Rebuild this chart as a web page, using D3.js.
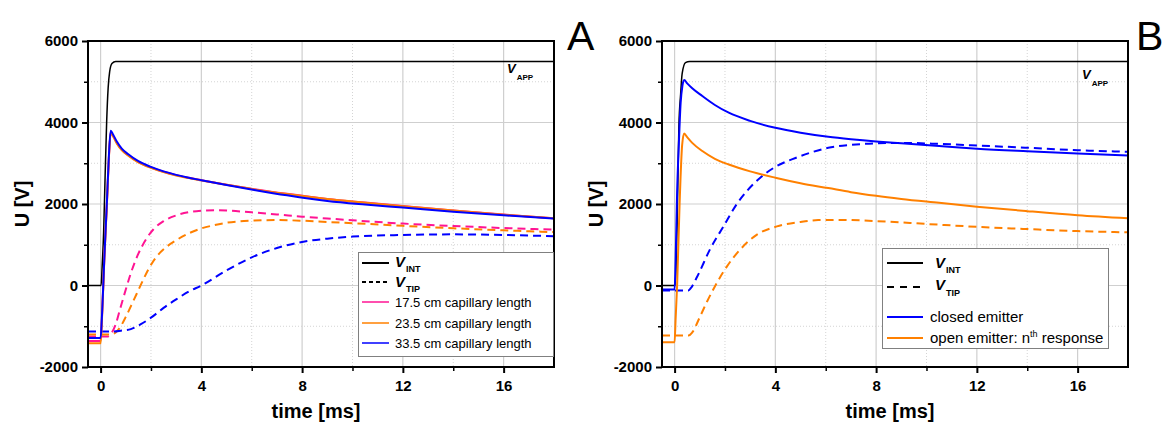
<!DOCTYPE html>
<html>
<head>
<meta charset="utf-8">
<script src="https://cdn.jsdelivr.net/npm/d3@7"></script>
<style>
    body { margin: 0; background: #fff; }
    text { font-family: "Liberation Sans", Arial, sans-serif; }
</style>
</head>
<body>
<script>
// Canvas size
const WIDTH = 1164;
const HEIGHT = 424;

// Axis ticks (shared by both panels)
const xTicks = [0, 4, 8, 12, 16];
const xMinorTicks = [2, 6, 10, 14];
const yTicks = [-2000, 0, 2000, 4000, 6000];
const yMinorTicks = [-1000, 1000, 3000, 5000];

// ---- Panel A: [time ms, U V] ----
const appA = [[-0.5, 0], [0.02, 0], [0.06, 450], [0.12, 1300], [0.18, 2700], [0.24, 4000], [0.3, 4850], [0.36, 5250], [0.45, 5450], [0.6, 5500], [18, 5500]];

const intA17 = [[-0.5, -1360], [0, -1360], [0.05, -850], [0.15, 700], [0.25, 2000], [0.33, 3150], [0.4, 3760], [0.5, 3665], [0.65, 3490], [0.84, 3330], [1.1, 3195], [1.5, 3030], [2, 2895], [2.5, 2790], [3, 2708], [3.5, 2642], [4, 2585], [5, 2475], [6.1, 2365], [7.4, 2250], [9, 2125], [10.5, 2035], [12, 1950], [14, 1840], [16, 1740], [18, 1650]];
const intA23 = [[-0.5, -1420], [0, -1420], [0.05, -900], [0.15, 680], [0.25, 2000], [0.33, 3130], [0.4, 3750], [0.5, 3655], [0.65, 3480], [0.84, 3320], [1.1, 3185], [1.5, 3020], [2, 2885], [2.5, 2782], [3, 2700], [3.5, 2636], [4, 2580], [5, 2470], [6.1, 2358], [7.4, 2243], [9, 2122], [10.5, 2032], [12, 1945], [14, 1838], [16, 1738], [18, 1650]];
const intA33 = [[-0.5, -1290], [0, -1290], [0.05, -800], [0.15, 700], [0.25, 2050], [0.33, 3200], [0.4, 3800], [0.5, 3700], [0.65, 3525], [0.84, 3360], [1.1, 3220], [1.5, 3050], [2, 2910], [2.5, 2800], [3, 2715], [3.5, 2645], [4, 2585], [5, 2465], [6.1, 2345], [7.4, 2212], [9, 2072], [10.5, 1985], [12, 1912], [14, 1812], [16, 1722], [18, 1645]];

const tipA17 = [[-0.5, -1250], [0.3, -1250], [0.45, -1150], [0.6, -950], [0.8, -520], [1.0, -100], [1.2, 300], [1.5, 780], [1.8, 1130], [2.1, 1380], [2.5, 1580], [3, 1720], [3.5, 1800], [4, 1835], [4.5, 1848], [5, 1840], [6, 1795], [7, 1745], [8, 1690], [9, 1645], [10, 1600], [12, 1520], [14, 1460], [16, 1410], [18, 1370]];
const tipA23 = [[-0.5, -1200], [0.4, -1200], [0.6, -1150], [0.8, -1000], [1.0, -770], [1.3, -380], [1.6, 20], [1.9, 400], [2.2, 690], [2.6, 940], [3, 1110], [3.5, 1280], [4, 1400], [4.5, 1480], [5, 1540], [6, 1590], [7, 1605], [8, 1590], [9, 1560], [10, 1530], [12, 1465], [14, 1405], [16, 1355], [18, 1310]];
const tipA33 = [[-0.5, -1130], [0.5, -1130], [0.8, -1110], [1.2, -1070], [1.6, -950], [2.0, -790], [2.5, -550], [3, -340], [3.5, -150], [4, 0], [5, 370], [6, 690], [7, 920], [8, 1070], [9, 1150], [10, 1200], [12, 1240], [14, 1255], [16, 1240], [18, 1210]];

// ---- Panel B ----
const appB = [[-0.5, 0], [0.02, 0], [0.06, 500], [0.1, 1500], [0.17, 3900], [0.24, 4700], [0.3, 5200], [0.43, 5470], [0.6, 5500], [18, 5500]];

const intClosed = [[-0.5, -100], [0, -100], [0.04, 600], [0.1, 2280], [0.17, 3500], [0.24, 4480], [0.31, 4900], [0.38, 5040], [0.5, 4960], [0.7, 4840], [1.1, 4650], [1.6, 4430], [2.15, 4240], [3, 4040], [4, 3870], [5, 3750], [6.1, 3650], [7, 3590], [8, 3535], [9, 3490], [10.5, 3423], [12, 3358], [14, 3295], [16, 3240], [18, 3190]];
const tipClosed = [[-0.5, -120], [0.55, -120], [0.65, -60], [0.9, 220], [1.4, 880], [1.94, 1450], [2.47, 2000], [2.81, 2275], [3.47, 2683], [4, 2910], [4.8, 3130], [5.5, 3280], [6.1, 3380], [7, 3450], [8, 3490], [9, 3500], [10.5, 3475], [12, 3436], [14, 3380], [16, 3320], [18, 3280]];
const intOpen = [[-0.5, -1390], [0, -1390], [0.04, -830], [0.1, 0], [0.2, 2030], [0.3, 3450], [0.38, 3730], [0.5, 3640], [0.7, 3500], [1.1, 3300], [1.6, 3110], [2.15, 2970], [3, 2800], [4, 2645], [5, 2510], [6.1, 2390], [7, 2290], [8, 2200], [9, 2125], [10.5, 2030], [12, 1935], [14, 1825], [16, 1725], [18, 1650]];
const tipOpen = [[-0.5, -1230], [0.55, -1230], [0.7, -1150], [1.02, -750], [1.3, -380], [1.62, 0], [2.08, 470], [2.6, 880], [3.27, 1250], [4.06, 1450], [5, 1560], [5.7, 1605], [6.5, 1610], [7.5, 1595], [8.5, 1565], [10, 1510], [12, 1440], [14, 1385], [16, 1335], [18, 1305]];

const PINK = '#ff1493';
const ORANGE = '#ff8000';
const BLUE = '#0000ff';

// Plot box for each panel
const PLOT_W = 466;
const PLOT_H = 326;
const PLOT_TOP = 41;

function initCanvas() {
    return d3.select('body')
        .append('svg')
        .attr('width', WIDTH)
        .attr('height', HEIGHT);
}

// V with subscript, e.g. V_INT
function vLabel(g, x, y, sub, size, subSize, subDy) {
    const t = g.append('text')
        .attr('x', x)
        .attr('y', y)
        .attr('font-size', size)
        .attr('font-weight', 'bold');
    t.append('tspan').attr('font-style', 'italic').text('V');
    t.append('tspan').attr('font-size', subSize).attr('dy', subDy).attr('dx', 1).text(sub);
}

function drawPanel(svg, left, series, letter, letterX, appLabelPos) {
    const x = d3.scaleLinear().domain([-0.5, 18]).range([left, left + PLOT_W]);
    const y = d3.scaleLinear().domain([-2000, 6000]).range([PLOT_TOP + PLOT_H, PLOT_TOP]);

    const clipId = 'clip' + letter;
    svg.append('clipPath').attr('id', clipId)
        .append('rect')
        .attr('x', left).attr('y', PLOT_TOP)
        .attr('width', PLOT_W).attr('height', PLOT_H);

    // grid
    const grid = svg.append('g');
    grid.selectAll('.gxm').data(xMinorTicks).join('line')
        .attr('x1', d => x(d)).attr('x2', d => x(d))
        .attr('y1', PLOT_TOP).attr('y2', PLOT_TOP + PLOT_H)
        .attr('stroke', '#d4d4d4').attr('stroke-dasharray', '1,2');
    grid.selectAll('.gym').data(yMinorTicks).join('line')
        .attr('y1', d => y(d)).attr('y2', d => y(d))
        .attr('x1', left).attr('x2', left + PLOT_W)
        .attr('stroke', '#d4d4d4').attr('stroke-dasharray', '1,2');
    grid.selectAll('.gx').data(xTicks).join('line')
        .attr('x1', d => x(d)).attr('x2', d => x(d))
        .attr('y1', PLOT_TOP).attr('y2', PLOT_TOP + PLOT_H)
        .attr('stroke', '#cfcfcf').attr('stroke-width', 1.2);
    grid.selectAll('.gy').data(yTicks).join('line')
        .attr('y1', d => y(d)).attr('y2', d => y(d))
        .attr('x1', left).attr('x2', left + PLOT_W)
        .attr('stroke', '#cfcfcf').attr('stroke-width', 1.2);

    // curves
    const line = d3.line()
        .x(d => x(d[0]))
        .y(d => y(d[1]))
        .curve(d3.curveMonotoneX);
    const curves = svg.append('g').attr('clip-path', `url(#${clipId})`);
    series.forEach(s => {
        curves.append('path')
            .datum(s.data)
            .attr('fill', 'none')
            .attr('stroke', s.color)
            .attr('stroke-width', s.width || 2)
            .attr('stroke-dasharray', s.dash || null)
            .attr('d', line);
    });

    // axes
    const fmt = d => String(d);
    const yAxis = svg.append('g')
        .attr('transform', `translate(${left},0)`)
        .call(d3.axisLeft(y).tickValues(yTicks).tickSize(6).tickPadding(4).tickFormat(fmt));
    svg.append('g')
        .attr('transform', `translate(${left},0)`)
        .call(d3.axisLeft(y).tickValues(yMinorTicks).tickSize(4).tickFormat(''))
        .call(g => g.select('.domain').remove())
        .selectAll('line').attr('stroke-width', 1.5);
    const xAxis = svg.append('g')
        .attr('transform', `translate(0,${PLOT_TOP + PLOT_H})`)
        .call(d3.axisBottom(x).tickValues(xTicks).tickSize(6).tickPadding(7).tickFormat(fmt));
    svg.append('g')
        .attr('transform', `translate(0,${PLOT_TOP + PLOT_H})`)
        .call(d3.axisBottom(x).tickValues(xMinorTicks).tickSize(4).tickFormat(''))
        .call(g => g.select('.domain').remove())
        .selectAll('line').attr('stroke-width', 1.5);
    [yAxis, xAxis].forEach(a => {
        a.select('.domain').remove();
        a.selectAll('line').attr('stroke-width', 2);
        a.selectAll('text')
            .attr('font-size', 15)
            .attr('font-weight', 'bold')
            .attr('fill', '#000')
            .style('font-family', '"Liberation Sans", Arial, sans-serif');
    });

    // frame
    svg.append('rect')
        .attr('x', left).attr('y', PLOT_TOP)
        .attr('width', PLOT_W).attr('height', PLOT_H)
        .attr('fill', 'none')
        .attr('stroke', '#000')
        .attr('stroke-width', 2);

    // titles
    svg.append('text')
        .attr('x', left + PLOT_W / 2 - 5)
        .attr('y', 418)
        .attr('text-anchor', 'middle')
        .attr('font-size', 20)
        .attr('font-weight', 'bold')
        .text('time [ms]');
    svg.append('text')
        .attr('transform', `translate(${left - 59},${PLOT_TOP + PLOT_H / 2}) rotate(-90)`)
        .attr('text-anchor', 'middle')
        .attr('font-size', 20)
        .attr('font-weight', 'bold')
        .text('U [V]');

    // panel letter
    svg.append('text')
        .attr('x', letterX)
        .attr('y', 50)
        .attr('font-size', 41)
        .text(letter);

    // V_APP label
    vLabel(svg, appLabelPos[0], appLabelPos[1], 'APP', 13, 8, 7);
}

function drawLegendA(svg) {
    const g = svg.append('g');
    g.append('rect')
        .attr('x', 358.5).attr('y', 252.5)
        .attr('width', 195).attr('height', 104)
        .attr('fill', '#fff').attr('stroke', '#808080');
    const items = [
        { y: 263, color: '#000', dash: null, v: 'INT', ty: 267 },
        { y: 282, color: '#000', dash: '4,3', v: 'TIP', ty: 287 },
        { y: 302, color: PINK, label: '17.5 cm capillary length', ty: 307 },
        { y: 323, color: ORANGE, label: '23.5 cm capillary length', ty: 328 },
        { y: 343, color: BLUE, label: '33.5 cm capillary length', ty: 348 }
    ];
    items.forEach(it => {
        g.append('line')
            .attr('x1', 362).attr('x2', 389)
            .attr('y1', it.y).attr('y2', it.y)
            .attr('stroke', it.color)
            .attr('stroke-width', it.label ? 1.5 : 2)
            .attr('stroke-dasharray', it.dash);
        if (it.v) {
            vLabel(g, 395, it.ty, it.v, 15, 9, 5);
        } else {
            g.append('text')
                .attr('x', 395).attr('y', it.ty)
                .attr('font-size', 13)
                .text(it.label);
        }
    });
}

function drawLegendB(svg) {
    const g = svg.append('g');
    g.append('rect')
        .attr('x', 882.5).attr('y', 248.5)
        .attr('width', 226).attr('height', 100)
        .attr('fill', '#fff').attr('stroke', '#808080');
    g.append('line').attr('x1', 887).attr('x2', 923).attr('y1', 263).attr('y2', 263)
        .attr('stroke', '#000').attr('stroke-width', 2);
    vLabel(g, 935, 268, 'INT', 15, 9, 5);
    g.append('line').attr('x1', 887).attr('x2', 923).attr('y1', 287).attr('y2', 287)
        .attr('stroke', '#000').attr('stroke-width', 2).attr('stroke-dasharray', '7,6');
    vLabel(g, 935, 290, 'TIP', 15, 9, 6);
    g.append('line').attr('x1', 887).attr('x2', 923).attr('y1', 317).attr('y2', 317)
        .attr('stroke', BLUE).attr('stroke-width', 2);
    g.append('text').attr('x', 930).attr('y', 322).attr('font-size', 15).text('closed emitter');
    g.append('line').attr('x1', 887).attr('x2', 923).attr('y1', 338).attr('y2', 338)
        .attr('stroke', ORANGE).attr('stroke-width', 2);
    const t = g.append('text').attr('x', 930).attr('y', 343).attr('font-size', 15);
    t.append('tspan').text('open emitter: n');
    t.append('tspan').attr('font-size', 9).attr('dy', -6).text('th');
    t.append('tspan').attr('dy', 6).text(' response');
}

function main() {
    const svg = initCanvas();

    drawPanel(svg, 88, [
        { data: appA, color: '#000', width: 1.5 },
        { data: tipA17, color: PINK, dash: '8,5' },
        { data: tipA23, color: ORANGE, dash: '8,5' },
        { data: tipA33, color: BLUE, dash: '8,5' },
        { data: intA17, color: PINK },
        { data: intA23, color: ORANGE },
        { data: intA33, color: BLUE }
    ], 'A', 567, [507, 73]);

    drawPanel(svg, 662, [
        { data: appB, color: '#000', width: 1.5 },
        { data: tipClosed, color: BLUE, dash: '8,5' },
        { data: tipOpen, color: ORANGE, dash: '8,5' },
        { data: intClosed, color: BLUE },
        { data: intOpen, color: ORANGE }
    ], 'B', 1136, [1082, 79]);

    drawLegendA(svg);
    drawLegendB(svg);
}

main();
</script>
</body>
</html>
